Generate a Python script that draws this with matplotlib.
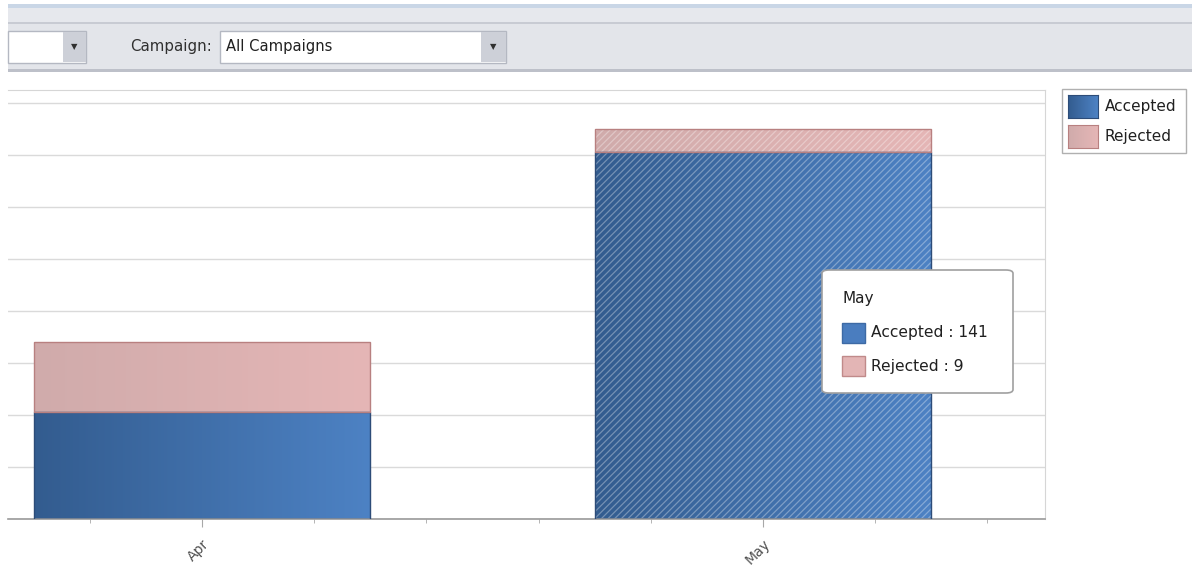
import numpy as np
import matplotlib
matplotlib.use("Agg")
import matplotlib.pyplot as plt
from matplotlib.patches import Rectangle, FancyBboxPatch
from matplotlib.colors import LinearSegmentedColormap
from matplotlib.ticker import MultipleLocator
from matplotlib.transforms import ScaledTranslation

# ---------------------------------------------------------------------------
# Data
# ---------------------------------------------------------------------------
months = ["Apr", "May"]
accepted = [41, 141]
rejected = [27, 9]
series_names = ["Accepted", "Rejected"]
campaign_label = "Campaign:"
campaign_value = "All Campaigns"
hover_idx = 1  # month shown in the tooltip / drawn as selected

W, H = 1192, 572
FONT = "DejaVu Sans"
plt.rcParams["font.family"] = [FONT]
plt.rcParams["hatch.linewidth"] = 0.9

BLUE_L, BLUE_R = "#335c8f", "#4d82c4"
PINK_L, PINK_R = "#d0abab", "#e5b6b6"
BLUE_EDGE = "#2d4c78"
PINK_EDGE = "#b88080"


def px(x, y):
    """pixel (from top-left) -> figure fraction"""
    return x / W, 1 - y / H


def fig_rect(fig, x0, y0, x1, y1, zorder=1, **kw):
    fx, fy = px(x0, y1)
    fig.patches.append(Rectangle((fx, fy), (x1 - x0) / W, (y1 - y0) / H,
                                 transform=fig.transFigure, zorder=zorder, **kw))


def gradient_fill(ax, patch, c_left, c_right, zorder):
    cmap = LinearSegmentedColormap.from_list("g", [c_left, c_right])
    x0, y0 = patch.get_x(), patch.get_y()
    x1, y1 = x0 + patch.get_width(), y0 + patch.get_height()
    im = ax.imshow(np.linspace(0, 1, 256).reshape(1, -1), cmap=cmap,
                   extent=[x0, x1, y0, y1], aspect="auto",
                   interpolation="bicubic", zorder=zorder)
    im.set_clip_path(patch)


fig = plt.figure(figsize=(W / 100, H / 100), dpi=100)

# ---- toolbar ------------------------------------------------------------
X0 = 8
fig_rect(fig, X0, 4, W, 8, color="#c9d6e6", lw=0)
fig_rect(fig, X0, 8, W, 22, color="#e6e8ed", lw=0)
fig_rect(fig, X0, 22, W, 24, color="#c8cbd3", lw=0)
fig_rect(fig, X0, 24, W, 69, color="#e3e5ea", lw=0)
fig_rect(fig, X0, 69, W, 72, color="#bdc0c9", lw=0)

# left combo (cut off)
fig_rect(fig, X0, 31, 86, 63, facecolor="#ffffff", edgecolor="#b4b8c2", lw=1)
fig_rect(fig, 63, 32, 86, 62, color="#cdd0d8", lw=0)
fig.text(*px(74.5, 47), "\u25BC", fontsize=6, color="#303030",
         ha="center", va="center")

fig.text(*px(130, 47), campaign_label, fontsize=10.8, color="#303030",
         ha="left", va="center")
fig_rect(fig, 220, 31, 506, 63, facecolor="#ffffff", edgecolor="#b4b8c2", lw=1)
fig_rect(fig, 481, 32, 506, 62, color="#cdd0d8", lw=0)
fig.text(*px(493.5, 47), "\u25BC", fontsize=6, color="#303030",
         ha="center", va="center")
fig.text(*px(226, 47), campaign_value, fontsize=10.6, color="#202020",
         ha="left", va="center")

# ---- chart --------------------------------------------------------------
l, b = px(8, 519)
r, t = px(1045, 90)
ax = fig.add_axes([l, b, r - l, t - b])

x = np.arange(len(months))
bar_w = 0.6
acc_bars = ax.bar(x, accepted, width=bar_w, color="none",
                  edgecolor=BLUE_EDGE, lw=1, zorder=3)
rej_bars = ax.bar(x, rejected, width=bar_w, bottom=accepted, color="none",
                  edgecolor=PINK_EDGE, lw=1, zorder=3)

for p in acc_bars:
    gradient_fill(ax, p, BLUE_L, BLUE_R, 2)
for p in rej_bars:
    gradient_fill(ax, p, PINK_L, PINK_R, 2)

# selected month gets the diagonal hatch
ax.bar(x[hover_idx], accepted[hover_idx] + rejected[hover_idx], width=bar_w,
       fill=False, hatch="/////", edgecolor=(1, 1, 1, 0.32), lw=0,
       zorder=2.5)

ax.set_xlim(-0.346, 1.503)
ax.set_ylim(0, 165)
ax.yaxis.set_major_locator(MultipleLocator(20))
ax.grid(axis="y", color="#dadada", lw=1, zorder=0)
ax.set_axisbelow(True)
ax.tick_params(axis="y", left=False, labelleft=False)

ax.set_xticks(x)
ax.set_xticklabels(months, rotation=45, ha="right", va="top",
                   rotation_mode="anchor", fontsize=10, color="#505050")
shift = ScaledTranslation(-0.06, -0.04, fig.dpi_scale_trans)
for lab in ax.get_xticklabels():
    lab.set_transform(lab.get_transform() + shift)
ax.xaxis.set_minor_locator(MultipleLocator(0.2))
ax.tick_params(axis="x", which="major", length=6, color="#a8a8a8", pad=7)
ax.tick_params(axis="x", which="minor", length=3, color="#a8a8a8")

for s in ["top", "right"]:
    ax.spines[s].set_color("#d6d6d6")
ax.spines["left"].set_visible(False)
ax.spines["bottom"].set_color("#9a9a9a")
ax.spines["bottom"].set_linewidth(1.2)

# ---- legend -------------------------------------------------------------
fig_rect(fig, 1062, 89, 1186, 153, zorder=-1, facecolor="#ffffff",
         edgecolor="#b0b0b0", lw=1)
leg_cols = [(BLUE_L, BLUE_R, BLUE_EDGE), (PINK_L, PINK_R, PINK_EDGE)]
for i, (name, (cl, cr, ce)) in enumerate(zip(series_names, leg_cols)):
    y0 = 95 + i * 30
    lx0, ly0 = px(1068, y0 + 23)
    lax = fig.add_axes([lx0, ly0, 30 / W, 23 / H])
    lax.set_zorder(5)
    lax.imshow(np.linspace(0, 1, 64).reshape(1, -1),
               cmap=LinearSegmentedColormap.from_list("g", [cl, cr]),
               aspect="auto", extent=[0, 1, 0, 1])
    lax.set_xticks([])
    lax.set_yticks([])
    for s in lax.spines.values():
        s.set_color(ce)
    fig.text(*px(1105, y0 + 11.5), name, fontsize=11, color="#202020",
             ha="left", va="center")

# ---- tooltip ------------------------------------------------------------
tx, ty = px(822, 393)
tip = FancyBboxPatch((tx, ty), 191 / W, 123 / H,
                     boxstyle="round,pad=0,rounding_size=0.006",
                     transform=fig.transFigure, facecolor="#ffffff",
                     edgecolor="#a0a0a0", lw=1.2, zorder=10)
fig.patches.append(tip)
fig.text(*px(843, 298), months[hover_idx], fontsize=11, color="#202020",
         ha="left", va="center", zorder=11)
tip_rows = [(series_names[0], accepted[hover_idx], "#4a7dbf", "#3d6aa5"),
            (series_names[1], rejected[hover_idx], "#e3b5b5", "#c08a8a")]
for i, (name, val, fc, ec) in enumerate(tip_rows):
    yc = 333 + i * 33
    sx, sy = px(842, yc + 10)
    fig.patches.append(Rectangle((sx, sy), 23 / W, 20 / H,
                                 transform=fig.transFigure, facecolor=fc,
                                 edgecolor=ec, lw=1, zorder=11))
    fig.text(*px(871, yc), f"{name} : {val}", fontsize=11.2, color="#202020",
             ha="left", va="center", zorder=11)

fig.savefig("out.png", dpi=100)
